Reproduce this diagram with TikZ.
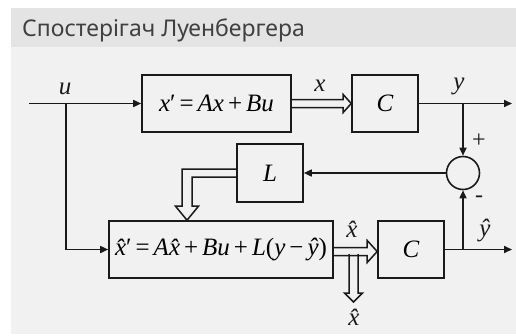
\documentclass[tikz,border=0pt]{standalone}
\usepackage{fontspec}
\setmainfont{Liberation Serif}
\newfontfamily\titlefont{Noto Sans}
\usetikzlibrary{arrows.meta,calc}
\definecolor{titlebg}{HTML}{E4E4E4}
\definecolor{panelbg}{HTML}{F1F1F1}
\definecolor{ink}{HTML}{1A1A1A}
\newcommand\mi[1]{{\itshape #1}}
\newcommand\xh{\mi{\^x}}
\newcommand\yh{\mi{\^y}}
\newcommand\gap{\hspace{4pt}}
% horizontal double arrow: #1 start, #2 end, #3 head half-width, #4 head length
\newcommand\hdbl[4]{\draw[dbl] let \p1=(#1), \p2=(#2) in
  (\x1,\y1+4pt) -- (\x2-#4,\y1+4pt) -- (\x2-#4,\y1+#3) -- (\x2,\y1)
  -- (\x2-#4,\y1-#3) -- (\x2-#4,\y1-4pt) -- (\x1,\y1-4pt);}
% vertical (downward) double arrow
\newcommand\vdbl[4]{\draw[dbl] let \p1=(#1), \p2=(#2) in
  (\x1-4.5pt,\y1) -- (\x1-4.5pt,\y2+#4) -- (\x1-#3,\y2+#4) -- (\x1,\y2)
  -- (\x1+#3,\y2+#4) -- (\x1+4.5pt,\y2+#4) -- (\x1+4.5pt,\y1);}
\begin{document}
\begin{tikzpicture}[x=1pt,y=-1pt,
  blk/.style={draw=ink, line width=1.6pt, inner sep=0pt, font=\fontsize{25}{28}\selectfont},
  sig/.style={draw=ink, line width=1.6pt, -{Triangle[length=8pt,width=7pt]}},
  dbl/.style={draw=ink, line width=1.5pt, line join=miter},
  lbl/.style={font=\fontsize{25}{28}\selectfont, inner sep=0pt, text=ink},
  sgn/.style={font=\fontsize{24}{26}\selectfont, inner sep=0pt, text=ink}]
\useasboundingbox (0,0) rectangle (516,335);
\fill[white] (0,0) rectangle (516,335);
\fill[panelbg] (11,47) rectangle (516,334);
\fill[titlebg] (11,8) rectangle (516,47);
\node[anchor=base west, inner sep=0pt, font=\titlefont\fontsize{23}{28}\selectfont, text=black!75] (title) at (22,36) {Спостерігач Луенбергера};

% blocks
\node[blk, minimum width=149pt, minimum height=57pt] (plant) at (216.5,103.5) {\mi{x}′\gap=\gap\mi{Ax}\gap+\gap\mi{Bu}};
\node[blk, minimum width=66pt, minimum height=57pt] (C1) at (385,103.5) {\mi{C}};
\node[blk, minimum width=66pt, minimum height=58pt] (L) at (270,173) {\mi{L}};
\node[blk, minimum width=224pt, minimum height=57pt] (obs) at (221,249.5) {\xh′\gap=\gap\mi{A}\xh\gap+\gap\mi{Bu}\gap+\gap\mi{L}(\mi{y}\gap−\gap\yh)};
\node[blk, minimum width=66pt, minimum height=57pt] (C2) at (411,249.5) {\mi{C}};
\node[draw=ink, line width=1.6pt, circle, minimum size=33pt, inner sep=0pt] (sum) at (463,173) {};

% coordinates
\coordinate (uin) at (29,103.5);
\coordinate (uj) at (66,103.5);
\coordinate (yj) at (463,103.5);
\coordinate (yout) at (512,103.5);
\coordinate (yhj) at (463,249.5);
\coordinate (yhout) at (512,249.5);
\coordinate (xhsplit) at (353.5,254);
\coordinate (xhout) at (353.5,302);
\coordinate (Ltip) at ([xshift=-34pt]obs.north);

% single connectors
\draw[sig] (uin) -- (plant.west);
\draw[sig] (uj) |- (obs.west);
\draw[sig] (C1.east) -- (yout);
\draw[sig] (yj) -- (sum.north);
\draw[sig] (sum.west) -- (L.east);
\draw[sig] (C2.east) -- (yhout);
\draw[sig] (yhj) -- (sum.south);

% double connectors
\hdbl{plant.east}{C1.west}{9pt}{8pt}
\hdbl{[yshift=-2pt]obs.east}{[yshift=-2pt]C2.west}{11pt}{10pt}
\vdbl{xhsplit}{xhout}{9pt}{9pt}
\draw[dbl] let \p1=(L.west), \p2=(Ltip) in
  (\x1,\y1+4pt) -- (\x2-5pt,\y1+4pt) -- (\x2-5pt,\y2+14pt) -- (\x2-11.5pt,\y2+14pt)
  -- (\x2,\y2) -- (\x2+11.5pt,\y2+14pt) -- (\x2+5pt,\y2+14pt) -- (\x2+5pt,\y1-4pt) -- (\x1,\y1-4pt);

% labels
\node[lbl] (lu) at (65,89) {\mi{u}};
\node[lbl] (lx) at (320,86) {\mi{x}};
\node[lbl] (ly) at (459,86) {\mi{y}};
\node[sgn] (lplus) at (479,141) {+};
\node[sgn] (lminus) at (479,199) {-};
\node[lbl] (lyh) at (485,231) {\yh};
\node[lbl] (lxh) at (352,229) {\xh};
\node[lbl] (lxh2) at (354,317) {\xh};
\end{tikzpicture}
\end{document}
